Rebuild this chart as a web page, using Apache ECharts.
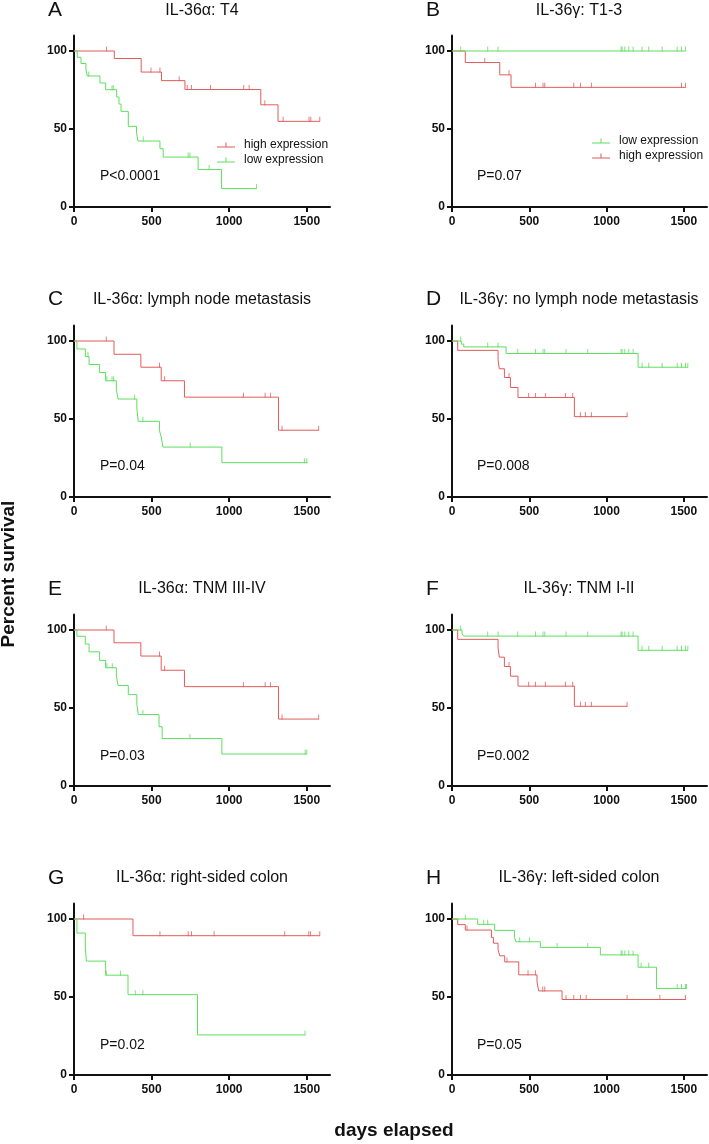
<!DOCTYPE html>
<html>
<head>
<meta charset="utf-8">
<script src="https://cdn.jsdelivr.net/npm/echarts@6/dist/echarts.min.js"></script>
<style>
  html, body { margin: 0; padding: 0; background: #fff; }
  #chart { width: 709px; height: 1144px; }
</style>
</head>
<body>
<div id="chart"></div>
<script>
// Kaplan-Meier curves: [days, percent survival] at each drop, censored days separately
const aHigh = [[0, 100], [260, 95.2], [433, 86.5], [564, 81], [715, 75.3], [1204, 65.5], [1315, 54.9], [1584, 54.9]]
const aHighCens = [210, 496, 554, 678, 730, 757, 880, 1094, 1129, 1230, 1348, 1515, 1526, 1584]
const aLow = [[0, 100], [21, 96], [45, 92], [77, 88], [86, 84], [167, 79.5], [204, 75.2], [275, 70.5], [290, 66], [303, 61.3], [350, 51.7], [403, 47.6], [412, 42.3], [554, 37.4], [575, 32], [800, 24], [951, 11.8], [1176, 11.8]]
const aLowCens = [95, 245, 253, 446, 736, 747, 871, 1176]

const bLow = [[0, 100], [1511, 100]]
const bLowCens = [56, 231, 298, 1094, 1101, 1118, 1144, 1172, 1230, 1273, 1360, 1457, 1485, 1511]
const bHigh = [[0, 100], [86, 92.6], [309, 84.7], [382, 76.7], [1511, 76.7]]
const bHighCens = [212, 369, 540, 589, 600, 788, 831, 902, 1485, 1511]

const cHigh = [[0, 100], [258, 91.5], [431, 83.2], [562, 74.5], [712, 64], [1318, 42.8], [1577, 42.8]]
const cHighCens = [208, 551, 584, 1092, 1232, 1266, 1341, 1577]
const cLow = [[0, 100], [19, 94.9], [73, 90], [97, 84.9], [165, 79.8], [204, 74.5], [273, 68.7], [284, 62.8], [405, 57], [414, 48.5], [551, 42.5], [562, 38.5], [573, 32], [953, 22], [1506, 22]]
const cLowCens = [90, 212, 245, 255, 391, 444, 749, 1485, 1500]

const dLow = [[0, 100], [60, 98], [76, 96.2], [350, 92], [1204, 83.2], [1526, 83.2]]
const dLowCens = [56, 231, 298, 425, 540, 589, 600, 738, 878, 1094, 1101, 1118, 1144, 1172, 1230, 1273, 1360, 1457, 1485, 1511, 1526]
const dHigh = [[0, 100], [37, 94], [298, 88], [306, 82.2], [339, 76.6], [378, 70.2], [427, 63.8], [792, 51.5], [1133, 51.5]]
const dHighCens = [369, 496, 540, 604, 734, 781, 831, 863, 902, 1133]

const eHigh = [[0, 100], [258, 91.8], [431, 83.3], [562, 74.2], [712, 63.7], [1318, 42.9], [1577, 42.9]]
const eHighCens = [208, 551, 584, 1092, 1232, 1266, 1341, 1577]
const eLow = [[0, 100], [19, 96], [73, 91], [97, 86], [165, 80.5], [204, 75.8], [273, 70.4], [284, 64.4], [350, 58.6], [405, 52.5], [414, 45.8], [548, 38], [568, 30.4], [953, 20.5], [1500, 20.5]]
const eLowCens = [212, 247, 444, 747, 1490, 1500]

const fLow = [[0, 100], [65, 97.5], [76, 96.1], [1204, 87], [1526, 87]]
const fLowCens = [56, 231, 298, 425, 540, 589, 600, 738, 878, 1094, 1101, 1118, 1144, 1172, 1230, 1273, 1360, 1457, 1485, 1511, 1526]
const fHigh = [[0, 100], [37, 94], [298, 88.6], [306, 82.6], [339, 76.6], [378, 70.4], [427, 64], [792, 51.1], [1133, 51.1]]
const fHighCens = [369, 496, 540, 604, 734, 781, 831, 863, 902, 1133]

const gHigh = [[0, 100], [380, 89.3], [1584, 89.3]]
const gHighCens = [62, 554, 736, 757, 903, 1358, 1513, 1524, 1584]
const gLow = [[0, 100], [19, 91], [73, 82], [80, 73], [204, 64], [348, 51.5], [796, 25.7], [1489, 25.7]]
const gLowCens = [208, 300, 395, 444, 1489]

const hLow = [[0, 100], [166, 96.6], [276, 92.7], [404, 88.2], [414, 85.4], [572, 81.8], [960, 77], [1204, 69.1], [1323, 55.5], [1517, 55.5]]
const hLowCens = [86, 205, 231, 438, 501, 680, 878, 1094, 1101, 1118, 1144, 1172, 1224, 1273, 1457, 1485, 1511, 1517]
const hHigh = [[0, 100], [37, 96.4], [86, 92.9], [255, 88.2], [268, 84.5], [298, 80.3], [309, 76.4], [341, 72.5], [432, 64.2], [550, 59.7], [561, 53.9], [712, 48.4], [1511, 48.4]]
const hHighCens = [97, 356, 492, 540, 587, 600, 738, 788, 831, 868, 1133, 1345, 1511]

const xTicks = [0, 500, 1000, 1500]
const yTicks = [0, 50, 100]

const RED = '#e25b5b'
const GREEN = '#5edf5e'
const FONT = '"Liberation Sans", Arial, sans-serif'

const panels = [
  { letter: 'A', title: 'IL-36α: T4', p: 'P<0.0001', high: aHigh, highCens: aHighCens, low: aLow, lowCens: aLowCens },
  { letter: 'B', title: 'IL-36γ: T1-3', p: 'P=0.07', high: bHigh, highCens: bHighCens, low: bLow, lowCens: bLowCens },
  { letter: 'C', title: 'IL-36α: lymph node metastasis', p: 'P=0.04', high: cHigh, highCens: cHighCens, low: cLow, lowCens: cLowCens },
  { letter: 'D', title: 'IL-36γ: no lymph node metastasis', p: 'P=0.008', high: dHigh, highCens: dHighCens, low: dLow, lowCens: dLowCens },
  { letter: 'E', title: 'IL-36α: TNM III-IV', p: 'P=0.03', high: eHigh, highCens: eHighCens, low: eLow, lowCens: eLowCens },
  { letter: 'F', title: 'IL-36γ: TNM I-II', p: 'P=0.002', high: fHigh, highCens: fHighCens, low: fLow, lowCens: fLowCens },
  { letter: 'G', title: 'IL-36α: right-sided colon', p: 'P=0.02', high: gHigh, highCens: gHighCens, low: gLow, lowCens: gLowCens },
  { letter: 'H', title: 'IL-36γ: left-sided colon', p: 'P=0.05', high: hHigh, highCens: hHighCens, low: hLow, lowCens: hLowCens }
]

// layout
const colLeft = [74, 452]
const colWidth = [256, 255]
const rowTop = [35.4, 325.4, 614.4, 903.4]
const gridHeight = 171.6
const letterY = [10.5, 299.5, 589, 878]
const titleX = [202, 579]
const pY = [176, 466, 756, 1045]

function survAt(pts, d) {
  let v = pts[0][1]
  pts.forEach(function(p) { if (p[0] <= d) v = p[1] })
  return v
}

const grid = []
const xAxis = []
const yAxis = []
const series = []
const graphic = []

panels.forEach(function(pn, i) {
  const col = i % 2
  const row = Math.floor(i / 2)
  grid.push({ left: colLeft[col], top: rowTop[row], width: colWidth[col], height: gridHeight })
  xAxis.push({
    gridIndex: i, type: 'value', min: 0, max: 1650,
    splitLine: { show: false },
    axisLine: { lineStyle: { color: '#111', width: 2 } },
    axisTick: { length: 5, lineStyle: { color: '#111', width: 2 }, customValues: xTicks },
    axisLabel: {
      customValues: xTicks, margin: 9, color: '#111', fontWeight: 'bold', fontSize: 12, fontFamily: FONT,
      formatter: function(v) { return String(v) }
    }
  })
  yAxis.push({
    gridIndex: i, type: 'value', min: 0, max: 110,
    splitLine: { show: false },
    axisLine: { show: true, lineStyle: { color: '#111', width: 2 } },
    axisTick: { show: true, length: 5, lineStyle: { color: '#111', width: 2 }, customValues: yTicks },
    axisLabel: { customValues: yTicks, margin: 7, color: '#111', fontWeight: 'bold', fontSize: 12, fontFamily: FONT }
  })
  const curves = [
    { name: 'high expression', color: RED, pts: pn.high, cens: pn.highCens },
    { name: 'low expression', color: GREEN, pts: pn.low, cens: pn.lowCens }
  ]
  curves.forEach(function(c) {
    series.push({
      name: c.name, type: 'line', step: 'end', xAxisIndex: i, yAxisIndex: i,
      data: c.pts, showSymbol: false, color: c.color, animation: false,
      lineStyle: { color: c.color, width: 1 }
    })
    series.push({
      name: 'censored', type: 'scatter', xAxisIndex: i, yAxisIndex: i,
      data: c.cens.map(function(d) { return [d, survAt(c.pts, d)] }),
      symbol: 'rect', symbolSize: [1, 5], symbolOffset: [0, -2],
      itemStyle: { color: c.color }, silent: true, animation: false, z: 3
    })
  })
  graphic.push({
    type: 'text', x: col ? 426 : 48, y: letterY[row],
    style: { text: pn.letter, font: '21px ' + FONT, fill: '#111', verticalAlign: 'middle' }
  })
  graphic.push({
    type: 'text', x: titleX[col], y: letterY[row],
    style: { text: pn.title, font: '16px ' + FONT, fill: '#111', align: 'center', verticalAlign: 'middle' }
  })
  graphic.push({
    type: 'text', x: col ? 477 : 100, y: pY[row],
    style: { text: pn.p, font: '14px ' + FONT, fill: '#111', verticalAlign: 'middle' }
  })
})

graphic.push({
  type: 'text', x: 394, y: 1131,
  style: { text: 'days elapsed', font: 'bold 19px ' + FONT, fill: '#111', align: 'center', verticalAlign: 'middle' }
})
graphic.push({
  type: 'text', x: 9, y: 574, rotation: Math.PI / 2,
  style: { text: 'Percent survival', font: 'bold 19px ' + FONT, fill: '#111', align: 'center', verticalAlign: 'middle' }
})

const legendIcon = 'path://M0,4h18v1h-18z M8.5,0h1v4h-1z'
const legendBase = {
  orient: 'vertical', itemWidth: 18, itemHeight: 5, itemGap: 3, selectedMode: false,
  icon: legendIcon,
  textStyle: { fontSize: 12, fontFamily: FONT, color: '#111', padding: [0, 0, 0, 4] }
}

const chart = echarts.init(document.getElementById('chart'))
chart.setOption({
  backgroundColor: '#fff',
  animation: false,
  grid: grid,
  xAxis: xAxis,
  yAxis: yAxis,
  legend: [
    Object.assign({}, legendBase, { left: 212, top: 134, data: ['high expression', 'low expression'] }),
    Object.assign({}, legendBase, { left: 587, top: 130, data: ['low expression', 'high expression'] })
  ],
  graphic: graphic,
  series: series
})
</script>
</body>
</html>
